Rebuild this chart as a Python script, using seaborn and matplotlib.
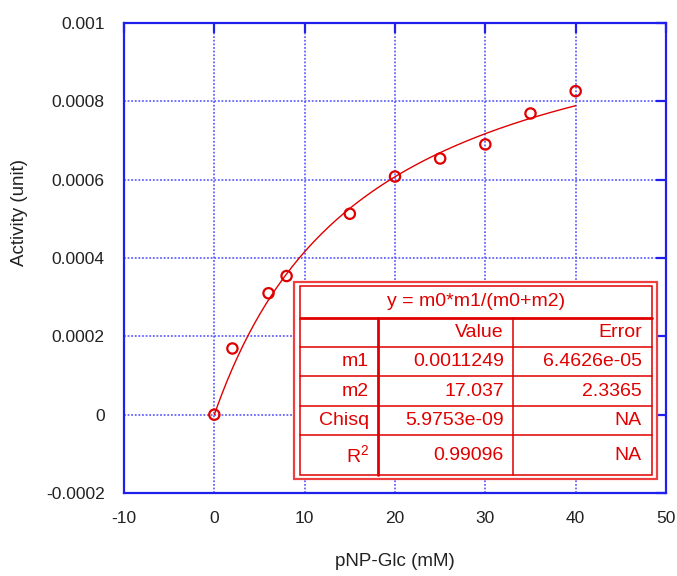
import numpy as np
import pandas as pd
import matplotlib
matplotlib.use("Agg")
import matplotlib.pyplot as plt
import seaborn as sns
from matplotlib.patches import Rectangle
from matplotlib.lines import Line2D

# Measured substrate concentrations and enzyme activity
substrate_mM = [0, 2, 6, 8, 15, 20, 25, 30, 35, 40]
activity = [0.0, 0.000169, 0.000310, 0.000354, 0.000513,
            0.000608, 0.000654, 0.000690, 0.000769, 0.000826]

# Michaelis-Menten fit parameters (m1 = Vmax, m2 = Km)
fit_m1 = 0.0011249
fit_m2 = 17.037

x_ticks = [-10, 0, 10, 20, 30, 40, 50]
x_tick_labels = ["-10", "0", "10", "20", "30", "40", "50"]
y_ticks = [-0.0002, 0, 0.0002, 0.0004, 0.0006, 0.0008, 0.001]
y_tick_labels = ["-0.0002", "0", "0.0002", "0.0004", "0.0006", "0.0008", "0.001"]

fit_equation = "y = m0*m1/(m0+m2)"
table_header = ["", "Value", "Error"]
table_row_names = ["m1", "m2", "Chisq", "R$^2$"]
table_values = ["0.0011249", "17.037", "5.9753e-09", "0.99096"]
table_errors = ["6.4626e-05", "2.3365", "NA", "NA"]

sns.set_theme(style="white")
plt.rcParams["font.family"] = ["Liberation Sans", "DejaVu Sans"]
plt.rcParams["mathtext.fontset"] = "custom"
plt.rcParams["mathtext.rm"] = "Liberation Sans"
plt.rcParams["mathtext.it"] = "Liberation Sans"
plt.rcParams["mathtext.default"] = "regular"

RED = "#e00000"
BLUE = "#2020ee"
GRID_BLUE = "#4a4aff"
TEXT = "#222222"

W, H = 677, 576
fig = plt.figure(figsize=(W / 100, H / 100), dpi=100)
ax_l, ax_r, ax_t, ax_b = 124, 666, 23, 493
ax = fig.add_axes([ax_l / W, (H - ax_b) / H, (ax_r - ax_l) / W, (ax_b - ax_t) / H])
ax.set_facecolor("white")

# Fitted curve from the reported parameters
curve_x = np.linspace(0, max(substrate_mM), 200)
curve = pd.DataFrame({"x": curve_x, "y": fit_m1 * curve_x / (curve_x + fit_m2)})
sns.lineplot(data=curve, x="x", y="y", ax=ax, color=RED, linewidth=1.0, zorder=3)

points = pd.DataFrame({"x": substrate_mM, "y": activity})
sns.scatterplot(data=points, x="x", y="y", ax=ax, marker="o", s=55,
                facecolors="none", edgecolor=RED, linewidth=1.6, zorder=4)

ax.set_xlim(-10, 50)
ax.set_ylim(-0.0002, 0.001)
ax.set_xticks(x_ticks)
ax.set_xticklabels(x_tick_labels)
ax.set_yticks(y_ticks)
ax.set_yticklabels(y_tick_labels)

ax.grid(True, color=GRID_BLUE, linestyle=(0, (1, 1)), linewidth=1.3, alpha=0.85)
ax.set_axisbelow(True)
for s in ax.spines.values():
    s.set_visible(True)
    s.set_color(BLUE)
    s.set_linewidth(1.6)

ax.tick_params(axis="both", direction="in", length=7, width=1.6, color=BLUE,
               labelsize=12.5, labelcolor=TEXT, right=True, top=True)
ax.tick_params(axis="x", pad=13)
ax.tick_params(axis="y", pad=14)

ax.set_xlabel("pNP-Glc (mM)", fontsize=13.5, color=TEXT)
ax.set_ylabel("Activity (unit)", fontsize=13.5, color=TEXT)
ax.xaxis.set_label_coords(0.5, (ax_b - 562) / (ax_b - ax_t))
ax.xaxis.label.set_va("center")
ax.yaxis.set_label_coords((20 - ax_l) / (ax_r - ax_l), (ax_b - 212) / (ax_b - ax_t))
ax.yaxis.label.set_va("center")
ax.yaxis.label.set_ha("center")
ax.yaxis.label.set_rotation_mode("anchor")


# Fit results table, laid out in pixel positions relative to the axes box
def fx(px):
    return (px - ax_l) / (ax_r - ax_l)


def fy(py):
    return (ax_b - py) / (ax_b - ax_t)


T = ax.transAxes
ax.add_patch(Rectangle((fx(294), fy(479)), fx(657) - fx(294), fy(282) - fy(479),
                       transform=T, facecolor="white", edgecolor="#ee4040",
                       linewidth=1.6, zorder=6, clip_on=False))
ax.add_patch(Rectangle((fx(300), fy(475)), fx(652) - fx(300), fy(286) - fy(475),
                       transform=T, facecolor="none", edgecolor=RED,
                       linewidth=1.1, zorder=7, clip_on=False))

row_lines = [318, 346.7, 376, 406, 435]
for i, yl in enumerate(row_lines):
    ax.add_line(Line2D([fx(300), fx(652)], [fy(yl), fy(yl)], transform=T,
                       color=RED, linewidth=2.0 if i == 0 else 1.1, zorder=7))
ax.add_line(Line2D([fx(378), fx(378)], [fy(318), fy(475)], transform=T,
                   color=RED, linewidth=2.0, zorder=7))
ax.add_line(Line2D([fx(513), fx(513)], [fy(318), fy(475)], transform=T,
                   color=RED, linewidth=1.1, zorder=7))

tkw = dict(transform=T, color=RED, fontsize=14, zorder=8, va="center")
ax.text(fx(476), fy(302), fit_equation, ha="center", **tkw)
col_right = [369, 504, 642]
row_centers = [332.4, 361, 391, 420.5, 455]
for c, label in enumerate(table_header):
    if label:
        ax.text(fx(col_right[c]), fy(row_centers[0]), label, ha="right", **tkw)
for r in range(len(table_row_names)):
    yc = fy(row_centers[r + 1])
    ax.text(fx(col_right[0]), yc, table_row_names[r], ha="right", **tkw)
    ax.text(fx(col_right[1]), yc, table_values[r], ha="right", **tkw)
    ax.text(fx(col_right[2]), yc, table_errors[r], ha="right", **tkw)

fig.savefig("out.png", dpi=100, facecolor="white")
